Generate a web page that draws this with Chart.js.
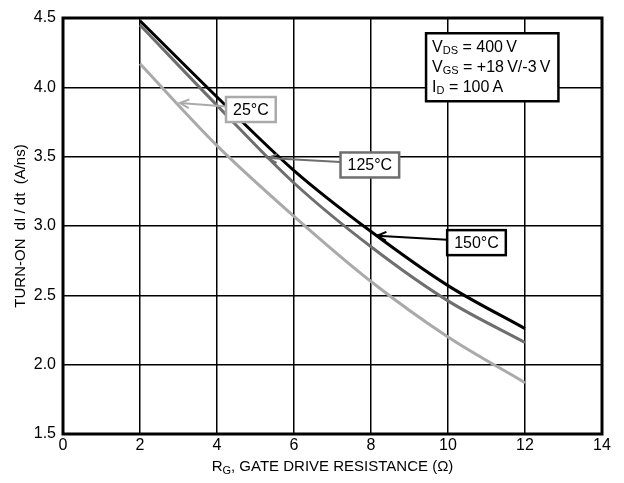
<!DOCTYPE html>
<html>
<head>
<meta charset="utf-8">
<script src="https://cdn.jsdelivr.net/npm/chart.js@4"></script>
<style>
  html, body { margin: 0; padding: 0; background: #fff; }
  #wrap { width: 624px; height: 483px; }
</style>
</head>
<body>
<div id="wrap"><canvas id="myChart" width="624" height="483"></canvas></div>
<script>
const FONT = "'Liberation Sans', Arial, sans-serif";

// gate resistance (ohm) and turn-on dI/dt (A/ns) per junction temperature
const rg = [2, 4, 6, 8, 10, 12];
const didt150 = [4.48, 3.93, 3.40, 2.96, 2.57, 2.26];
const didt125 = [4.45, 3.87, 3.31, 2.85, 2.46, 2.16];
const didt25 = [4.17, 3.58, 3.07, 2.60, 2.20, 1.87];

const xTicks = [0, 2, 4, 6, 8, 10, 12, 14];
const yTicks = [1.5, 2.0, 2.5, 3.0, 3.5, 4.0, 4.5];

const toPoints = (ys) => rg.map((x, i) => ({ x: x, y: ys[i] }));

// callout labels: box centre and arrow tip in data units
const callouts = [
  { text: "25°C", color: "#aaaaaa", box: [4.88, 3.84], tip: [3.04, 3.887] },
  { text: "125°C", color: "#6e6e6e", box: [7.97, 3.44], tip: [5.32, 3.49] },
  { text: "150°C", color: "#000000", box: [10.74, 2.88], tip: [8.16, 2.93] },
];

// draw text runs with optional subscripts, returns width
function richText(c, runs, x, y, draw) {
  let w = 0;
  runs.forEach((r) => {
    c.font = (r.sub ? "11px " : "16px ") + FONT;
    if (draw) c.fillText(r.t, x + w, y + (r.sub ? 4 : 0));
    w += c.measureText(r.t).width;
  });
  return w;
}

const conditions = [
  [{ t: "V" }, { t: "DS", sub: true }, { t: " = 400\u2009V" }],
  [{ t: "V" }, { t: "GS", sub: true }, { t: " = +18\u2009V/-3\u2009V" }],
  [{ t: "I" }, { t: "D", sub: true }, { t: " = 100\u2009A" }],
];

function arrow(c, x0, y0, x1, y1, color) {
  const a = Math.atan2(y1 - y0, x1 - x0);
  c.strokeStyle = color;
  c.lineWidth = 2;
  c.beginPath();
  c.moveTo(x0, y0);
  c.lineTo(x1, y1);
  c.stroke();
  c.beginPath();
  c.moveTo(x1 - 10 * Math.cos(a - 0.45), y1 - 10 * Math.sin(a - 0.45));
  c.lineTo(x1, y1);
  c.lineTo(x1 - 10 * Math.cos(a + 0.45), y1 - 10 * Math.sin(a + 0.45));
  c.stroke();
}

const annotate = {
  id: "annotate",
  beforeDatasetsDraw(chart) {
    const c = chart.ctx;
    const a = chart.chartArea;
    // heavy frame round the plot
    c.save();
    c.strokeStyle = "#000";
    c.lineWidth = 3;
    c.strokeRect(a.left, a.top, a.right - a.left, a.bottom - a.top);
    c.restore();
  },
  afterDraw(chart) {
    const c = chart.ctx;
    const xs = chart.scales.x;
    const ys = chart.scales.y;
    const a = chart.chartArea;
    c.save();
    c.fillStyle = "#000";
    c.textBaseline = "middle";

    // axis titles
    c.textAlign = "left";
    const t1 = "R", t2 = "G", t3 = ", GATE DRIVE RESISTANCE (\u03a9)";
    c.font = "15px " + FONT;
    const w1 = c.measureText(t1).width;
    const w3 = c.measureText(t3).width;
    c.font = "11px " + FONT;
    const w2 = c.measureText(t2).width;
    let tx = (a.left + a.right) / 2 - (w1 + w2 + w3) / 2;
    const ty = 467;
    c.font = "15px " + FONT;
    c.fillText(t1, tx, ty);
    c.font = "11px " + FONT;
    c.fillText(t2, tx + w1, ty + 4);
    c.font = "15px " + FONT;
    c.fillText(t3, tx + w1 + w2, ty);

    c.save();
    c.translate(21, (a.top + a.bottom) / 2);
    c.rotate(-Math.PI / 2);
    c.textAlign = "center";
    c.fillText("TURN-ON  dI / dt  (A/ns)", 0, 0);
    c.restore();

    // temperature callouts
    c.font = "16px " + FONT;
    callouts.forEach((k) => {
      const bx = xs.getPixelForValue(k.box[0]);
      const by = ys.getPixelForValue(k.box[1]);
      const tw = c.measureText(k.text).width;
      const bw = tw + 14, bh = 25;
      arrow(c, bx - bw / 2, by - 3, xs.getPixelForValue(k.tip[0]), ys.getPixelForValue(k.tip[1]), k.color);
      c.fillStyle = "#fff";
      c.fillRect(bx - bw / 2, by - bh / 2, bw, bh);
      c.strokeStyle = k.color;
      c.lineWidth = 2.5;
      c.strokeRect(bx - bw / 2, by - bh / 2, bw, bh);
      c.fillStyle = "#000";
      c.textAlign = "center";
      c.fillText(k.text, bx, by + 1);
    });

    // test conditions box
    c.textAlign = "left";
    const left = xs.getPixelForValue(9.43);
    const top = ys.getPixelForValue(4.39);
    let maxW = 0;
    conditions.forEach((line) => { maxW = Math.max(maxW, richText(c, line, 0, 0, false)); });
    const boxW = maxW + 14, boxH = 68;
    c.fillStyle = "#fff";
    c.fillRect(left, top, boxW, boxH);
    c.strokeStyle = "#000";
    c.lineWidth = 2.5;
    c.strokeRect(left, top, boxW, boxH);
    c.fillStyle = "#000";
    conditions.forEach((line, i) => richText(c, line, left + 6, top + 14 + i * 20, true));
    c.restore();
  },
};

const ctx = document.getElementById("myChart");

new Chart(ctx, {
  type: "scatter",
  data: {
    datasets: [
      {
        label: "150°C",
        data: toPoints(didt150),
        showLine: true,
        borderColor: "#000000",
        borderWidth: 3,
        pointRadius: 0,
        cubicInterpolationMode: "monotone",
      },
      {
        label: "125°C",
        data: toPoints(didt125),
        showLine: true,
        borderColor: "#6e6e6e",
        borderWidth: 3,
        pointRadius: 0,
        cubicInterpolationMode: "monotone",
      },
      {
        label: "25°C",
        data: toPoints(didt25),
        showLine: true,
        borderColor: "#aaaaaa",
        borderWidth: 3,
        pointRadius: 0,
        cubicInterpolationMode: "monotone",
      },
    ],
  },
  options: {
    responsive: false,
    animation: false,
    layout: { padding: { top: 18, right: 22, left: 0, bottom: 0 } },
    plugins: {
      legend: { display: false },
      tooltip: { enabled: false },
    },
    scales: {
      x: {
        type: "linear",
        min: 0,
        max: 14,
        afterBuildTicks: (s) => { s.ticks = xTicks.map((v) => ({ value: v })); },
        afterFit: (s) => { s.height = 49; },
        grid: { color: "#000", lineWidth: 1.5, drawTicks: false },
        border: { display: false },
        ticks: { color: "#000", font: { family: FONT, size: 16 }, padding: 2, maxRotation: 0 },
      },
      y: {
        min: 1.5,
        max: 4.5,
        afterBuildTicks: (s) => { s.ticks = yTicks.map((v) => ({ value: v })); },
        afterFit: (s) => { s.width = 63; },
        grid: { color: "#000", lineWidth: 1.5, drawTicks: false },
        border: { display: false },
        ticks: {
          color: "#000",
          font: { family: FONT, size: 16 },
          padding: 7,
          callback: (v) => v.toFixed(1),
        },
      },
    },
  },
  plugins: [annotate],
});
</script>
</body>
</html>
